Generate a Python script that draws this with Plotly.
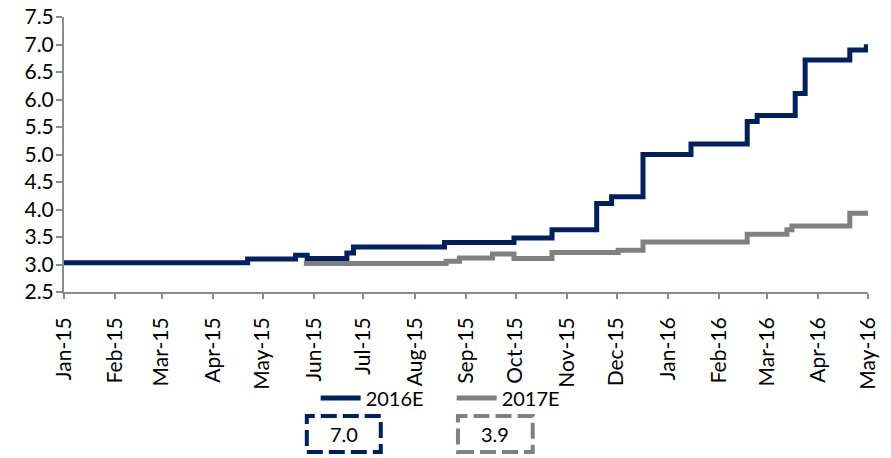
"""Consensus EPS estimates drifting up: 2016E vs 2017E, Jan-15 to May-16."""

import plotly.graph_objects as go

# Step-wise consensus estimates (date of change, new level)
dates_2016e = [
    "2015-01-01", "2015-04-22", "2015-05-21", "2015-05-28", "2015-06-21",
    "2015-06-25", "2015-08-19", "2015-09-30", "2015-10-23", "2015-11-19",
    "2015-11-28", "2015-12-17", "2016-01-15", "2016-02-18", "2016-02-24",
    "2016-03-18", "2016-03-24", "2016-04-20", "2016-04-30", "2016-05-01",
]
values_2016e = [
    3.03, 3.10, 3.17, 3.11, 3.21,
    3.32, 3.40, 3.48, 3.63, 4.11,
    4.23, 5.00, 5.19, 5.60, 5.71,
    6.11, 6.72, 6.90, 6.96, 6.96,
]

dates_2017e = [
    "2015-05-26", "2015-08-20", "2015-08-28", "2015-09-17", "2015-09-30",
    "2015-10-23", "2015-12-02", "2015-12-17", "2016-02-18", "2016-03-13",
    "2016-03-16", "2016-04-20", "2016-05-01",
]
values_2017e = [
    3.02, 3.06, 3.12, 3.19, 3.11,
    3.22, 3.26, 3.41, 3.55, 3.63,
    3.70, 3.93, 3.93,
]

NAVY = "#002060"
GREY = "#808080"
AXIS = "#8C8C8C"
FONT = "Lato"

fig = go.Figure()

fig.add_trace(
    go.Scatter(
        x=dates_2016e,
        y=values_2016e,
        name="2016E",
        mode="lines",
        line={"color": NAVY, "width": 5, "shape": "hv"},
    )
)
fig.add_trace(
    go.Scatter(
        x=dates_2017e,
        y=values_2017e,
        name="2017E",
        mode="lines",
        line={"color": GREY, "width": 5, "shape": "hv"},
    )
)

# Dashed boxes with the latest value of each series
boxes = [
    (values_2016e[-1], NAVY, 0.302, 0.394),
    (values_2017e[-1], GREY, 0.490, 0.583),
]
for val, color, x0, x1 in boxes:
    fig.add_shape(
        type="rect",
        xref="paper",
        yref="paper",
        x0=x0,
        x1=x1,
        y0=-0.582,
        y1=-0.451,
        line={"color": color, "width": 4, "dash": "16px,6px"},
    )
    fig.add_annotation(
        text=f"{val:.1f}",
        xref="paper",
        yref="paper",
        x=(x0 + x1) / 2,
        y=-0.516,
        xanchor="center",
        yanchor="middle",
        showarrow=False,
        font={"family": FONT, "size": 20, "color": "black"},
    )

fig.update_layout(
    width=891,
    height=458,
    margin={"l": 64, "r": 23, "t": 17, "b": 166},
    plot_bgcolor="white",
    paper_bgcolor="white",
    font={"family": FONT, "size": 21, "color": "black"},
    showlegend=True,
    legend={
        "orientation": "h",
        "x": 0.313,
        "xanchor": "left",
        "y": -0.385,
        "yanchor": "middle",
        "itemwidth": 40,
        "entrywidth": 81,
        "entrywidthmode": "pixels",
        "font": {"family": FONT, "size": 20},
        "bgcolor": "rgba(0,0,0,0)",
    },
)

fig.update_xaxes(
    type="date",
    range=["2015-01-01", "2016-05-01"],
    tick0="2015-01-01",
    dtick="M1",
    tickformat="%b-%y",
    tickangle=-90,
    ticks="outside",
    ticklen=5,
    tickwidth=2,
    tickcolor=AXIS,
    ticklabelstandoff=10,
    showline=True,
    linecolor=AXIS,
    linewidth=2,
    showgrid=False,
    zeroline=False,
    automargin=False,
)
fig.update_yaxes(
    range=[2.5, 7.5],
    dtick=0.5,
    tick0=2.5,
    tickformat=".1f",
    ticks="outside",
    ticklen=6,
    tickwidth=2,
    tickcolor=AXIS,
    ticklabelstandoff=-2,
    showline=True,
    linecolor=AXIS,
    linewidth=2,
    showgrid=False,
    zeroline=False,
    automargin=False,
)

# Drop the default page margin so the figure sits at the window's corner
fig.write_html(
    "out.html",
    config={"displayModeBar": False},
    post_script="document.body.style.margin = '0';",
)
